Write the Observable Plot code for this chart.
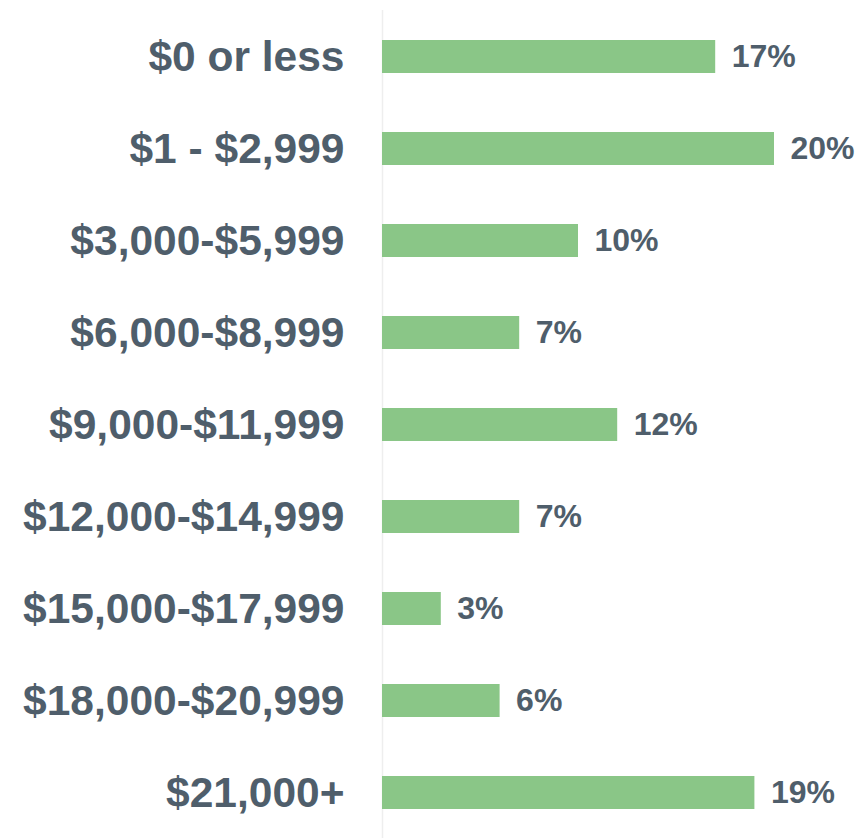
<!DOCTYPE html>
<html>
<head>
<meta charset="utf-8">
<script src="https://cdn.jsdelivr.net/npm/d3@7"></script>
<script src="https://cdn.jsdelivr.net/npm/@observablehq/plot@0.6"></script>
<style>
  html, body { margin: 0; padding: 0; background: #ffffff; }
  #chart { width: 866px; height: 838px; }
</style>
</head>
<body>
<div id="chart"></div>
<script>
const categories = [
  "$0 or less",
  "$1 - $2,999",
  "$3,000-$5,999",
  "$6,000-$8,999",
  "$9,000-$11,999",
  "$12,000-$14,999",
  "$15,000-$17,999",
  "$18,000-$20,999",
  "$21,000+"
];
const values = [17, 20, 10, 7, 12, 7, 3, 6, 19];

const data = categories.map((c, i) => ({label: c, value: values[i]}));

const textColor = "#4f5e6b";
const barColor = "#8ac687";

const chart = Plot.plot({
  width: 866,
  height: 838,
  marginLeft: 382,
  marginRight: 92,
  marginTop: 10,
  marginBottom: 0,
  style: {fontFamily: "'Liberation Sans', Arial, sans-serif", background: "#ffffff"},
  x: {domain: [0, 20], axis: null},
  y: {
    domain: categories,
    range: [9, 840],
    paddingInner: 0.642,
    paddingOuter: 0.321,
    axis: null
  },
  marks: [
    Plot.ruleX([0], {stroke: "#eeeeee", strokeWidth: 1.5}),
    Plot.barX(data, {x: "value", y: "label", fill: barColor}),
    Plot.axisY({
      tickSize: 0,
      tickPadding: 38,
      label: null,
      fontSize: 42.5,
      fontWeight: "bold",
      fill: textColor
    }),
    Plot.text(data, {
      x: "value",
      y: "label",
      text: d => d.value + "%",
      textAnchor: "start",
      dx: 16,
      fontSize: 32,
      fontWeight: "bold",
      fill: textColor
    })
  ]
});

document.getElementById("chart").appendChild(chart);
</script>
</body>
</html>
